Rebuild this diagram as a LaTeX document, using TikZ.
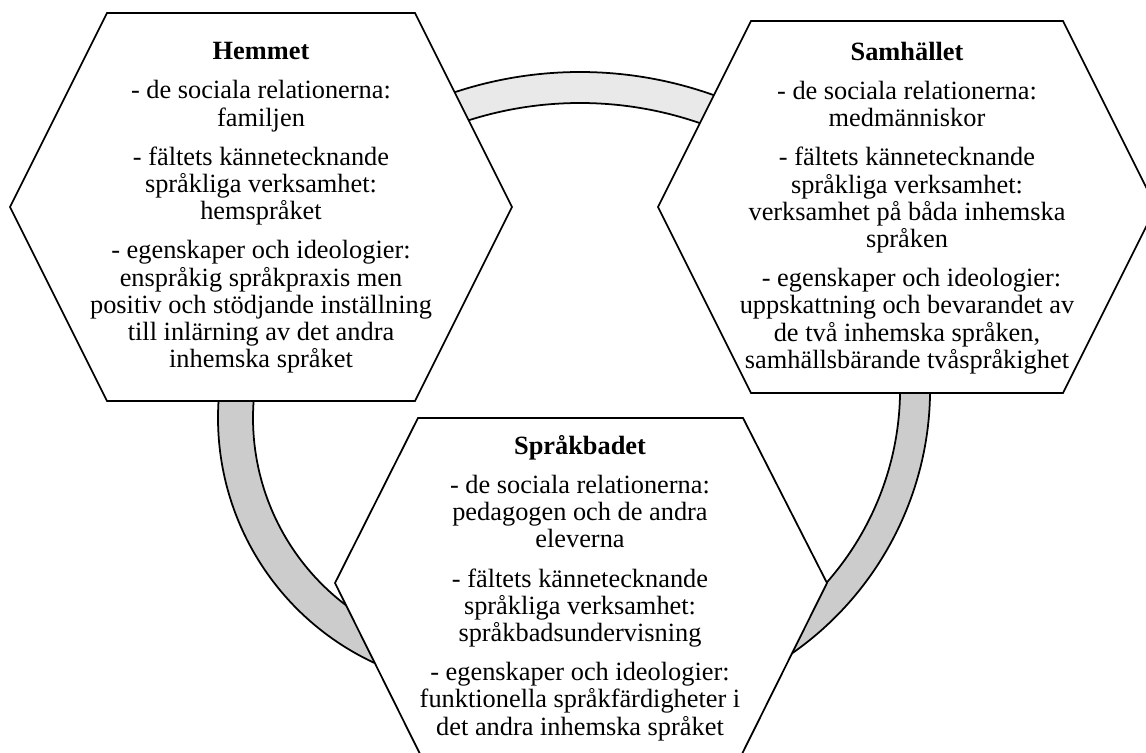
\documentclass[tikz,border=0pt]{standalone}
\usepackage{fontspec}
\setmainfont{Liberation Serif}

\tikzset{
    hexa/.style={draw, line width=1pt, fill=white},
    band/.style={draw, line width=1pt, fill=gray!40},
    fieldtext/.style={align=center, font=\fontsize{15}{15.5}\selectfont}
}

\begin{document}
\begin{tikzpicture}[x=0.02cm, y=-0.02cm]
    \clip (0,0) rectangle (1146,753);

    % Draw the bands between the fields
    \draw[band, fill=gray!17, shift={(580,470)}] (245:398) arc[start angle=245, end angle=295, radius=398]
        -- (295:367) arc[start angle=295, end angle=245, radius=367] -- cycle;
    \draw[band, shift={(488,418)}] (200:270) arc[start angle=200, end angle=100, radius=270]
        -- (100:235) arc[start angle=100, end angle=200, radius=235] -- cycle;
    \draw[band, shift={(608,389)}] (-15:322) arc[start angle=-15, end angle=75, radius=322]
        -- (75:292) arc[start angle=75, end angle=-15, radius=292] -- cycle;

    % Draw the hexagons
    \draw[hexa] (107,13) -- (415,13) -- (512,207) -- (415,401) -- (107,401) -- (10,207) -- cycle;
    \draw[hexa] (751,21) -- (1063,21) -- (1156,207) -- (1063,393) -- (751,393) -- (658,207) -- cycle;
    \draw[hexa] (418,418) -- (743,418) -- (827,583) -- (739,760) -- (423,760) -- (335,583) -- cycle;

    % Add the texts
    \node[fieldtext] (hemmet) at (261,208) {\textbf{Hemmet}\\[6.8pt]
        - de sociala relationerna:\\ familjen\\[6.8pt]
        - fältets kännetecknande\\ språkliga verksamhet:\\ hemspråket\\[6.8pt]
        - egenskaper och ideologier:\\ enspråkig språkpraxis men\\ positiv och stödjande inställning\\ till inlärning av det andra\\ inhemska språket};
    \node[fieldtext] (samhallet) at (907,208) {\textbf{Samhället}\\[6.8pt]
        - de sociala relationerna:\\ medmänniskor\\[6.8pt]
        - fältets kännetecknande\\ språkliga verksamhet:\\ verksamhet på båda inhemska\\ språken\\[6.8pt]
        \hspace*{0.18cm}- egenskaper och ideologier:\\ uppskattning och bevarandet av\\ de två inhemska språken,\\ samhällsbärande tvåspråkighet};
    \node[fieldtext] (sprakbadet) at (580,588) {\textbf{Språkbadet}\\[6.8pt]
        - de sociala relationerna:\\ pedagogen och de andra\\ eleverna\\[6.8pt]
        - fältets kännetecknande\\ språkliga verksamhet:\\ språkbadsundervisning\\[6.8pt]
        - egenskaper och ideologier:\\ funktionella språkfärdigheter i\\ det andra inhemska språket};
\end{tikzpicture}
\end{document}
